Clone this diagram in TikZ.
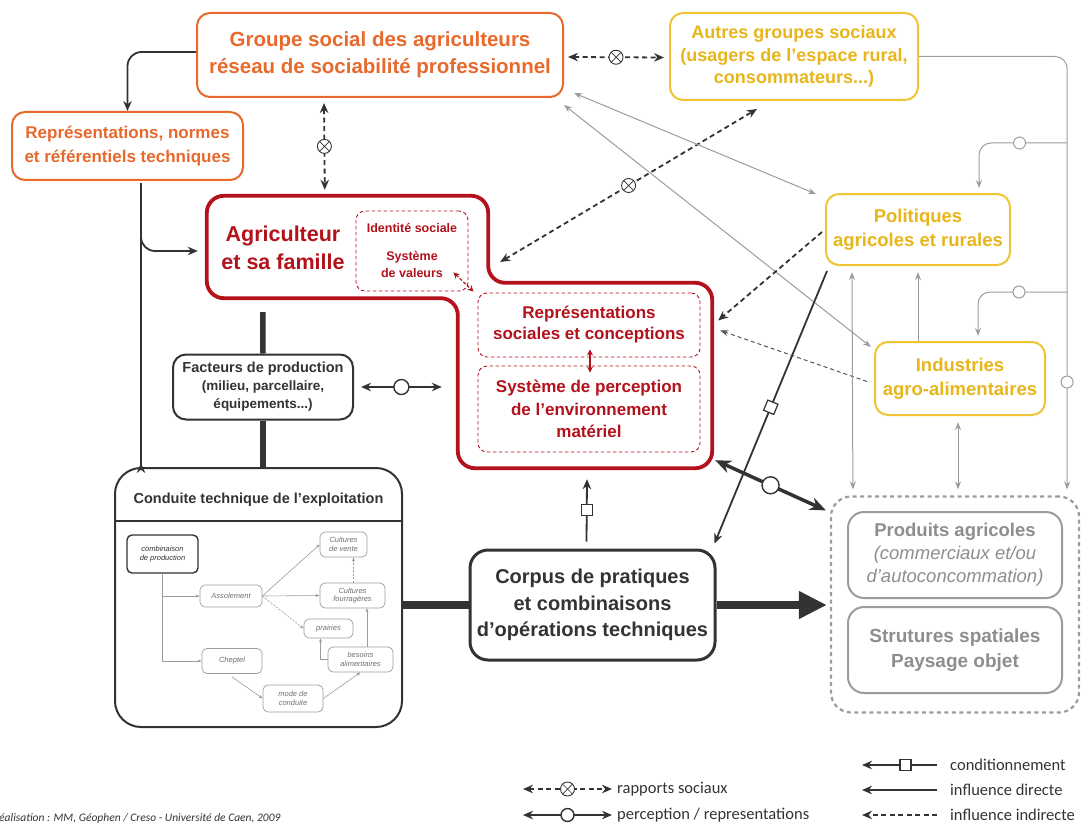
\documentclass[tikz,border=0pt]{standalone}
\usepackage{fontspec}
\setmainfont{Liberation Sans}
\newfontfamily\legendfont{Carlito}
\usetikzlibrary{arrows.meta,calc}

\definecolor{orangec}{HTML}{E8692C}
\definecolor{yellowt}{HTML}{E8B51A}
\definecolor{yellowb}{HTML}{F0C432}
\definecolor{redc}{HTML}{B3121C}
\definecolor{darkc}{HTML}{333333}
\definecolor{midc}{HTML}{555555}
\definecolor{grayc}{HTML}{9C9C9C}
\definecolor{grayt}{HTML}{8E8E8E}
\definecolor{minit}{HTML}{707070}

\newcommand{\fs}[2]{\fontsize{#1}{#2}\selectfont}

\tikzset{
  box/.style={align=center, inner sep=0pt, fill=white, font=\bfseries},
  obox/.style={box, draw=orangec, line width=2pt, rounded corners=13pt, text=orangec},
  ybox/.style={box, draw=yellowb, line width=2pt, rounded corners=13pt, text=yellowt},
  kbox/.style={box, draw=darkc, line width=2pt, rounded corners=13pt, text=darkc},
  gbox/.style={box, draw=grayc, line width=2pt, rounded corners=16pt, text=grayt},
  rdash/.style={box, draw=redc, line width=0.9pt, dash pattern=on 3.5pt off 2.5pt, rounded corners=9pt, text=redc},
  mini/.style={align=center, inner sep=0pt, draw=grayc, line width=0.7pt, rounded corners=5pt,
    text=minit, font=\itshape\fs{7.5}{8.5}},
  minil/.style={draw=grayc, line width=0.6pt, -{Stealth[length=4pt,width=3pt]}},
  direct/.style={draw=darkc, line width=1.8pt, -{Stealth[length=10pt,width=8.5pt]}},
  indirect/.style={direct, dash pattern=on 5pt off 3.5pt},
  social/.style={draw=darkc, line width=1.8pt, dash pattern=on 5pt off 3.5pt,
    {Stealth[length=10pt,width=8.5pt]}-{Stealth[length=10pt,width=8.5pt]}},
  percep/.style={draw=darkc, line width=1.8pt,
    {Stealth[length=10pt,width=8.5pt]}-{Stealth[length=10pt,width=8.5pt]}},
  thinl/.style={draw=grayc, line width=1pt, -{Stealth[length=8pt,width=6pt]}},
  thinb/.style={draw=grayc, line width=1pt,
    {Stealth[length=8pt,width=6pt]}-{Stealth[length=8pt,width=6pt]}},
  otimes/.style={solid, circle, draw=darkc, line width=0.9pt, fill=white, inner sep=0pt, minimum size=14pt,
    path picture={\draw[darkc, line width=0.7pt, solid, -]
      ($(path picture bounding box.north west)!0.15!(path picture bounding box.south east)$) --
      ($(path picture bounding box.north west)!0.85!(path picture bounding box.south east)$)
      ($(path picture bounding box.north east)!0.15!(path picture bounding box.south west)$) --
      ($(path picture bounding box.north east)!0.85!(path picture bounding box.south west)$);}},
  ocirc/.style={solid, circle, draw=darkc, line width=1.4pt, fill=white, inner sep=0pt, minimum size=15pt},
  gcirc/.style={solid, circle, draw=grayc, line width=1pt, fill=white, inner sep=0pt, minimum size=12pt},
  osq/.style={solid, rectangle, draw=darkc, line width=1.2pt, fill=white, inner sep=0pt, minimum size=11pt},
  legtxt/.style={anchor=west, inner sep=0pt, font=\legendfont\fs{16.5}{18}, text=darkc},
}

\begin{document}
\begin{tikzpicture}[x=1pt,y=-1pt]
\useasboundingbox (0,0) rectangle (1083,829);

% ---------- social groups ----------
\node[obox, minimum width=366pt, minimum height=84pt, font=\bfseries\fs{20.5}{27}] (groupe) at (380,55)
  {Groupe social des agriculteurs\\réseau de sociabilité professionnel};
\node[obox, minimum width=231pt, minimum height=68pt, font=\bfseries\fs{17}{24}] (repr) at (127.5,146)
  {Représentations, normes\\et référentiels techniques};
\node[ybox, minimum width=248pt, minimum height=87pt, font=\bfseries\fs{18}{22.5}] (autres) at (794,56.5)
  {Autres groupes sociaux\\(usagers de l'espace rural,\\consommateurs...)};
\node[ybox, minimum width=184pt, minimum height=71pt, font=\bfseries\fs{18.5}{24}] (politiques) at (918,229.5)
  {Politiques\\agricoles et rurales};
\node[ybox, minimum width=170pt, minimum height=73pt, font=\bfseries\fs{18.5}{24}] (industries) at (960,378.5)
  {Industries\\agro-alimentaires};

% ---------- farmer and family ----------
\node[minimum width=281pt, minimum height=102pt, inner sep=0pt] (agriA) at (347.5,247) {};
\node[minimum width=254pt, minimum height=185pt, inner sep=0pt] (agriB) at (585,375.5) {};
\draw[redc, line width=3.8pt, rounded corners=17pt, fill=white]
  (agriA.north west) -- (agriA.north east) -- (agriA.east |- agriB.north) -- (agriB.north east)
  -- (agriB.south east) -- (agriB.south west) -- (agriB.west |- agriA.south) -- (agriA.south west) -- cycle;
\node[align=center, text=redc, font=\bfseries\fs{21.5}{28}] (agritxt) at (283,248) {Agriculteur\\et sa famille};
\node[rdash, minimum width=112pt, minimum height=80pt] (ident) at (412,251) {};
\node[text=redc, font=\bfseries\fs{12.5}{15}] (identtxt) at (412,228) {Identité sociale};
\node[align=center, text=redc, font=\bfseries\fs{12.5}{17}] (valtxt) at (412,264) {Système\\de valeurs};
\node[rdash, minimum width=222pt, minimum height=64pt, font=\bfseries\fs{17}{21}] (reprs) at (589,325)
  {Représentations\\sociales et conceptions};
\node[rdash, minimum width=222pt, minimum height=86pt, font=\bfseries\fs{17}{22.5}] (percep) at (589,409)
  {Système de perception\\de l'environnement\\matériel};
\draw[draw=redc, line width=1.2pt, dash pattern=on 3pt off 2pt,
  {Stealth[length=6pt,width=6pt]}-{Stealth[length=6pt,width=6pt]}]
  ($(ident.south east)+(-15,-19)$) -- ($(reprs.north west)+(-4,-1)$);
\draw[draw=redc, line width=1.2pt,
  {Stealth[length=6pt,width=6pt]}-{Stealth[length=6pt,width=6pt]}]
  ($(reprs.south)+(1,-8)$) -- ($(percep.north)+(1,7)$);

% ---------- production ----------
\node[kbox, minimum width=180pt, minimum height=65pt, font=\bfseries\fs{14.5}{18}] (facteurs) at (263,387)
  {Facteurs de production\\{\fs{13.5}{17}(milieu, parcellaire,}\\{\fs{13.5}{17}équipements...)}};
\node[kbox, minimum width=287pt, minimum height=259pt, rounded corners=26pt] (conduite) at (258.5,597.5) {};
\node[text=darkc, font=\bfseries\fs{14.5}{17}] (conduitetxt) at (258.5,500) {Conduite technique de l'exploitation};
\draw[darkc, line width=2pt] ($(conduite.north west)+(0,54)$) -- ($(conduite.north east)+(0,54)$);
\node[kbox, line width=3pt, minimum width=245pt, minimum height=110pt, rounded corners=18pt,
  font=\bfseries\fs{20}{26.5}] (corpus) at (592.5,605)
  {Corpus de pratiques\\et combinaisons\\d'opérations techniques};

% inner scheme of the technical management
\node[mini, draw=darkc, line width=1.4pt, text=darkc, minimum width=71pt, minimum height=38pt] (combo) at (162.5,554)
  {combinaison\\de production};
\node[mini, minimum width=62pt, minimum height=22pt] (assol) at (231,596) {Assolement};
\node[mini, minimum width=60pt, minimum height=25pt] (cheptel) at (232,661) {Cheptel};
\node[mini, minimum width=47pt, minimum height=25pt] (cultvente) at (343.5,544.5) {Cultures\\de vente};
\node[mini, minimum width=65pt, minimum height=25pt] (cultfour) at (352.5,595.5) {Cultures\\fourragères};
\node[mini, minimum width=49pt, minimum height=19pt] (prairies) at (328.5,628.5) {prairies};
\node[mini, minimum width=65pt, minimum height=25pt] (besoins) at (360.5,659.5) {besoins\\alimentaires};
\node[mini, minimum width=60pt, minimum height=27pt] (mode) at (293,698.5) {mode de\\conduite};
\draw[minil] (combo.south) |- (cheptel.west);
\draw[minil] (combo.south |- assol.west) -- (assol.west);
\draw[minil] (assol.east) -- (cultvente.west);
\draw[minil] (assol.east) -- (cultfour.west);
\draw[minil, dash pattern=on 2pt off 1.5pt] (assol.east) -- (prairies.west);
\coordinate (cfn) at ($(cultfour.north)+(1,0)$);
\draw[minil, dash pattern=on 2pt off 1.5pt] (cfn) -- (cfn |- cultvente.south);
\coordinate (bn) at ($(besoins.north)+(6.5,0)$);
\draw[minil] (bn) -- (bn |- cultfour.south);
\coordinate (pr) at ($(prairies.south)+(-8,0)$);
\draw[minil] (besoins.west) -| (pr);
\draw[minil] ($(cheptel.south)+(0,3)$) -- (mode.west);
\draw[minil] (mode.east) -- (besoins.south);

% ---------- products and landscape ----------
\node[box, draw=grayc, line width=2.2pt, dash pattern=on 4pt off 3.5pt, rounded corners=20pt,
  minimum width=248pt, minimum height=216pt] (container) at (955,604.5) {};
\node[gbox, minimum width=214pt, minimum height=86pt, font=\bfseries\fs{18.5}{23}] (produits) at (955,555)
  {Produits agricoles\\{\mdseries\itshape (commerciaux et/ou}\\{\mdseries\itshape d'autoconcommation)}};
\node[gbox, minimum width=214pt, minimum height=86pt, font=\bfseries\fs{19}{25}] (structures) at (955,650)
  {Strutures spatiales\\Paysage objet};

% ---------- connectors ----------
\draw[direct, rounded corners=14pt] ($(groupe.west)+(0,-3)$) -| (repr.north);
\draw[social] ($(groupe.south west)+(128,5)$) -- node[otimes]{} ($(agriA.north west)+(118,-6)$);
\draw[social] ($(groupe.east)+(4,2)$) -- node[otimes]{} ($(autres.west)+(-5,1)$);
\draw[social] ($(agriA.east)+(12,15)$) -- node[otimes, pos=.5]{} ($(autres.south)+(-37,8)$);

\coordinate (lv) at ($(repr.south west)+(130,2)$);
\draw[direct] (lv) -- (lv |- conduite.north) -- ++(0,-4);
\draw[direct, rounded corners=14pt] ($(lv)+(0,36)$) |- ($(agriA.west)+(-9,4)$);

\draw[darkc, line width=5.5pt] ($(agriA.south west)+(56,14)$) -- (facteurs.north);
\draw[darkc, line width=5.5pt] (facteurs.south) -- (facteurs.south |- conduite.north);
\draw[percep] ($(facteurs.east)+(7,0)$) -- node[ocirc]{} ($(facteurs.east -| agriB.west)+(-16,0)$);

\coordinate (thy) at (0,605);
\draw[darkc, line width=8pt] (conduite.east |- thy) -- (corpus.west |- thy);
\draw[darkc, line width=8pt, -{Triangle[length=28pt,width=26pt]}] (corpus.east |- thy) -- ($(container.west |- thy)+(-3,0)$);
\draw[direct] ($(corpus.north)+(-6,-7)$) -- node[osq]{} ($(agriB.south)+(2,11)$);

\draw[thinb] ($(groupe.south east)+(10,-5)$) -- ($(politiques.north west)+(-9,1)$);
\draw[thinb] ($(groupe.south east)+(0,7)$) -- ($(industries.north west)+(-3,6)$);
\draw[indirect] ($(politiques.west)+(-3,2.5)$) -- ($(agriB.east)+(6,-55)$);
\draw[draw=midc, line width=1pt, dash pattern=on 4pt off 3pt, -{Stealth[length=8pt,width=6pt]}]
  ($(industries.west)+(-7,3)$) -- ($(agriB.east)+(8,-45)$);
\draw[direct] ($(politiques.south west)+(2,5)$) -- node[osq, sloped]{} ($(corpus.north east)+(-2,-5)$);
\draw[draw=darkc, line width=3.5pt,
  {Stealth[length=16pt,width=13pt]}-{Stealth[length=16pt,width=13pt]}]
  ($(agriB.south east)+(3,-8)$) -- node[ocirc, minimum size=17pt]{} ($(container.north west)+(-4,15)$);

\draw[thinb] ($(politiques.south west)+(27,6)$) -- ($(container.north west)+(23,-6)$);
\draw[thinl] (politiques.south |- industries.north) -- ($(politiques.south)+(0,6)$);
\draw[thinb] ($(industries.south)+(-2,6)$) -- ($(container.north)+(3,-6)$);

\coordinate (rc) at ($(container.north east)+(-13,-6)$);
\draw[thinl, rounded corners=12pt] (autres.east) -| node[gcirc, pos=.876]{} (rc);
\draw[thinl, rounded corners=12pt] (rc |- 0,143) -| node[gcirc, pos=.27]{} ($(politiques.north east)+(-32,-5)$);
\draw[thinl, rounded corners=12pt] (rc |- 0,292) -| node[gcirc, pos=.27]{} ($(industries.north east)+(-68,-5)$);

% ---------- legend ----------
\node[anchor=west, inner sep=0pt, text=darkc, font=\legendfont\itshape\fs{11.5}{12}] (credit) at (-7,818)
  {Réalisation : MM, Géophen / Creso - Université de Caen, 2009};

\node[legtxt] (lsoc) at (617,789) {rapports sociaux};
\node[legtxt] (lper) at (617,815) {perception / representations};
\node[legtxt] (lcond) at (950,765) {conditionnement};
\node[legtxt] (ldir) at (950,790) {influence directe};
\node[legtxt] (lind) at (950,815) {influence indirecte};
\draw[social] ($(lsoc.west)+(-94,0)$) -- node[otimes]{} ($(lsoc.west)+(-5,0)$);
\draw[percep] ($(lper.west)+(-94,0)$) -- node[ocirc, minimum size=13pt]{} ($(lper.west)+(-5,0)$);
\draw[direct] ($(lcond.west)+(-13,0)$) -- node[osq, pos=.42]{} ($(lcond.west)+(-88,0)$);
\draw[direct] ($(ldir.west)+(-13,0)$) -- ($(ldir.west)+(-88,0)$);
\draw[indirect] ($(lind.west)+(-13,0)$) -- ($(lind.west)+(-88,0)$);
\end{tikzpicture}
\end{document}
